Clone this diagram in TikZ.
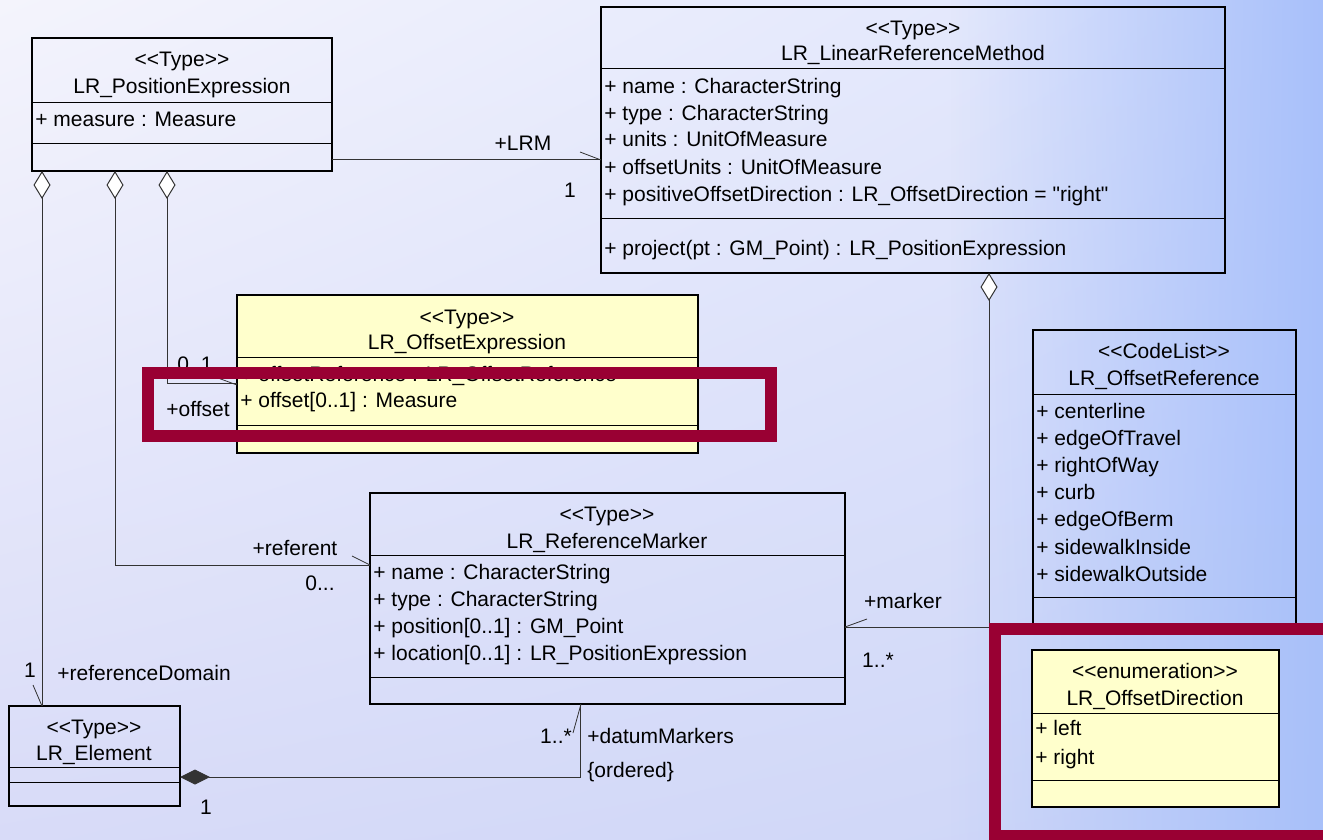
\documentclass[tikz,border=0pt]{standalone}
\usepackage{fontspec}
\newfontfamily\umlfont{Liberation Sans}
\usetikzlibrary{arrows.meta,fit,fadings,shadings}
\definecolor{bgtl}{RGB}{244,244,252}
\definecolor{bgtr}{RGB}{222,228,252}
\definecolor{bgbl}{RGB}{216,219,248}
\definecolor{bgbr}{RGB}{205,214,248}
\definecolor{bgedge}{RGB}{168,192,250}
\definecolor{typeyellow}{RGB}{255,255,204}
\definecolor{markred}{RGB}{153,0,51}
\tikzfading[name=fadeblue, left color=transparent!100, right color=transparent!0]
\tikzset{
  classbox/.style={draw, line width=0.75pt, inner sep=0pt, outer sep=0pt},
  yellowbox/.style={classbox, fill=typeyellow},
  divider/.style={line width=0.5pt},
  txt/.style={anchor=mid, yshift=-1.5pt},
  attr/.style={anchor=mid west, yshift=-1.5pt},
  conn/.style={line width=0.5pt, draw=black!80},
  aggr/.style={conn, {Diamond[fill=white,length=14pt,width=8.5pt]}-},
  comp/.style={conn, -{Diamond[length=15pt,width=7.5pt]}},
  leader/.style={line width=0.4pt, draw=black!80},
  highlight/.style={draw=markred, line width=6pt}
}

\begin{document}
\begin{tikzpicture}[x=0.5pt,y=-0.5pt,
  every node/.style={font=\umlfont\fontsize{10.5}{13}\selectfont, inner sep=0pt}]
\clip (0,0) rectangle (1323,840);
\shade[upper left=bgtl, upper right=bgtr, lower left=bgbl, lower right=bgbr] (0,0) rectangle (1323,840);
\fill[bgedge, path fading=fadeblue] (950,0) rectangle (1323,840);

\node[classbox, fit={(32,38) (332,171)}] (posexpr) {};
\draw[divider] (posexpr.west |- 0,103) -- (posexpr.east |- 0,103);
\draw[divider] (posexpr.west |- 0,144) -- (posexpr.east |- 0,144);
\node[txt] (posexpr-st) at (182,59) {<<Type>>};
\node[txt] (posexpr-name) at (182,86) {LR\_PositionExpression};
\node[attr] (posexpr-a1) at (35,119) {+ measure : Measure};

\node[classbox, fit={(601,7) (1225,273)}] (lrm) {};
\draw[divider] (lrm.west |- 0,69) -- (lrm.east |- 0,69);
\draw[divider] (lrm.west |- 0,218) -- (lrm.east |- 0,218);
\node[txt] (lrm-st) at (913,28) {<<Type>>};
\node[txt] (lrm-name) at (913,53) {LR\_LinearReferenceMethod};
\node[attr] (lrm-a1) at (604,86) {+ name : CharacterString};
\node[attr] (lrm-a2) at (604,113) {+ type : CharacterString};
\node[attr] (lrm-a3) at (604,139) {+ units : UnitOfMeasure};
\node[attr] (lrm-a4) at (604,167) {+ offsetUnits : UnitOfMeasure};
\node[attr] (lrm-a5) at (604,194) {+ positiveOffsetDirection : LR\_OffsetDirection = "right"};
\node[attr] (lrm-o1) at (604,248) {+ project(pt : GM\_Point) : LR\_PositionExpression};

\node[yellowbox, fit={(237,295) (698,453)}] (offexpr) {};
\draw[divider] (offexpr.west |- 0,357) -- (offexpr.east |- 0,357);
\draw[divider] (offexpr.west |- 0,425) -- (offexpr.east |- 0,425);
\node[txt] (offexpr-st) at (467,317) {<<Type>>};
\node[txt] (offexpr-name) at (467,342) {LR\_OffsetExpression};
\node[attr] (offexpr-a1) at (240,374) {+ offsetReference : LR\_OffsetReference};
\node[attr] (offexpr-a2) at (240,400) {+ offset[0..1] : Measure};

\node[classbox, fit={(370,493) (845,704)}] (refmark) {};
\draw[divider] (refmark.west |- 0,555) -- (refmark.east |- 0,555);
\draw[divider] (refmark.west |- 0,677) -- (refmark.east |- 0,677);
\node[txt] (refmark-st) at (607,514) {<<Type>>};
\node[txt] (refmark-name) at (607,541) {LR\_ReferenceMarker};
\node[attr] (refmark-a1) at (373,572) {+ name : CharacterString};
\node[attr] (refmark-a2) at (373,599) {+ type : CharacterString};
\node[attr] (refmark-a3) at (373,626) {+ position[0..1] : GM\_Point};
\node[attr] (refmark-a4) at (373,653) {+ location[0..1] : LR\_PositionExpression};

\node[classbox, fit={(9,706) (180,806)}] (elem) {};
\draw[divider] (elem.west |- 0,767) -- (elem.east |- 0,767);
\draw[divider] (elem.west |- 0,782) -- (elem.east |- 0,782);
\node[txt] (elem-st) at (94,727) {<<Type>>};
\node[txt] (elem-name) at (94,753) {LR\_Element};

\node[classbox, fit={(1033,330) (1296,624)}] (offref) {};
\draw[divider] (offref.west |- 0,394) -- (offref.east |- 0,394);
\draw[divider] (offref.west |- 0,597) -- (offref.east |- 0,597);
\node[txt] (offref-st) at (1164,351) {<<CodeList>>};
\node[txt] (offref-name) at (1164,378) {LR\_OffsetReference};
\node[attr] (offref-a1) at (1036,411) {+ centerline};
\node[attr] (offref-a2) at (1036,438) {+ edgeOfTravel};
\node[attr] (offref-a3) at (1036,465) {+ rightOfWay};
\node[attr] (offref-a4) at (1036,492) {+ curb};
\node[attr] (offref-a5) at (1036,519) {+ edgeOfBerm};
\node[attr] (offref-a6) at (1036,547) {+ sidewalkInside};
\node[attr] (offref-a7) at (1036,574) {+ sidewalkOutside};

\node[yellowbox, fit={(1032,650) (1279,807)}] (offdir) {};
\draw[divider] (offdir.west |- 0,713) -- (offdir.east |- 0,713);
\draw[divider] (offdir.west |- 0,780) -- (offdir.east |- 0,780);
\node[txt] (offdir-st) at (1155,671) {<<enumeration>>};
\node[txt] (offdir-name) at (1155,698) {LR\_OffsetDirection};
\node[attr] (offdir-a1) at (1035,728) {+ left};
\node[attr] (offdir-a2) at (1035,757) {+ right};

\draw[conn] (posexpr.east |- 0,160) -- (lrm.west |- 0,160);
\draw[aggr] (42,0 |- posexpr.south) -- (42,0 |- elem.north);
\draw[aggr] (115,0 |- posexpr.south) |- (refmark.west |- 0,565);
\draw[aggr] (167,0 |- posexpr.south) |- (offexpr.west |- 0,383);
\draw[aggr] (989,0 |- lrm.south) |- (refmark.east |- 0,627);
\draw[comp] (580,0 |- refmark.south) |- (elem.east |- 0,777);

\node[txt] (lrm-role) at (523,143) {+LRM};
\node[txt] (lrm-mult) at (570,190) {1};
\draw[leader] (580,152) -- (lrm.west |- 0,160);
\node[txt] (dom-mult) at (30,670) {1};
\node[attr] (dom-role) at (57,673) {+referenceDomain};
\draw[leader] (33,685) -- (42,0 |- elem.north);
\node[txt] (ref-role) at (295,548) {+referent};
\node[txt] (ref-mult) at (320,583) {0...};
\draw[leader] (352,556) -- (refmark.west |- 0,565);
\node[txt] (off-mult) at (195,364) {0..1};
\node[txt] (off-role) at (198,409) {+offset};
\draw[leader] (218,378) -- (offexpr.west |- 0,385);
\node[txt] (mark-role) at (903,601) {+marker};
\node[txt] (mark-mult) at (878,660) {1..*};
\draw[leader] (867,619) -- (refmark.east |- 0,627);
\node[txt] (datum-mult) at (556,736) {1..*};
\node[attr] (datum-role) at (587,736) {+datumMarkers};
\node[attr] (datum-ord) at (587,770) {\{ordered\}};
\draw[leader] (573,733) -- (581,0 |- refmark.south);
\node[txt] (elem-mult) at (206,807) {1};

\draw[highlight] (148,373) rectangle (771,436);
\draw[highlight] (995,629) rectangle (1340,836);
\end{tikzpicture}
\end{document}
